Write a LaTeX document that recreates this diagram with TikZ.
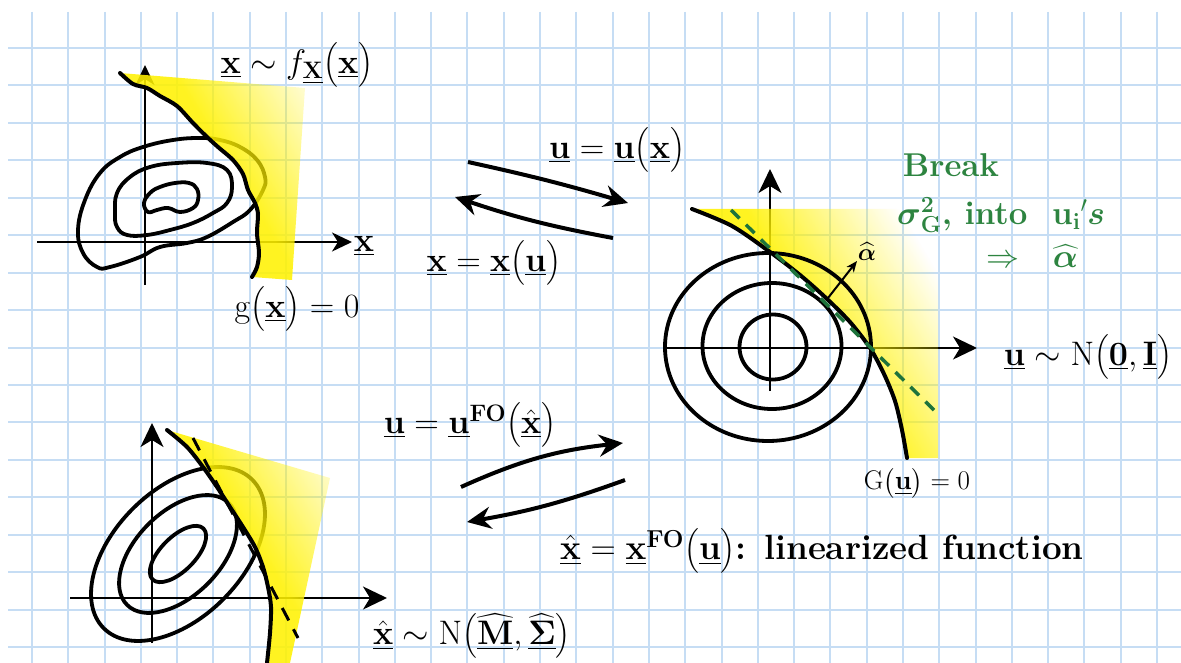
\RequirePackage{fix-cm}
\documentclass[tikz,border=0pt]{standalone}
\usepackage{amsmath}
\usetikzlibrary{arrows.meta,fadings}
\definecolor{gridblue}{RGB}{198,221,244}
\definecolor{grtext}{RGB}{45,132,64}
\definecolor{grdash}{RGB}{30,115,60}
\pgfdeclarehorizontalshading{yrampshade}{100bp}{color(0bp)=(white); color(50bp)=(white); color(61bp)=(black); color(100bp)=(black)}
\pgfdeclarefading{yfade}{\pgfuseshading{yrampshade}}
\tikzset{
  gridline/.style={draw=gridblue, line width=2pt},
  axisA/.style={line width=2pt, -{Stealth[length=20pt,width=19pt,inset=6pt]}},
  axisB/.style={line width=2pt, -{Stealth[length=24pt,width=23pt,inset=7pt]}},
  contourline/.style={line width=3.8pt, line join=round},
  limitcurve/.style={line width=4pt, line cap=round, line join=round},
  bigarrow/.style={line width=4pt, -{Stealth[length=24pt,width=22pt,inset=8pt]}},
  thinarrow/.style={line width=2pt, -{Stealth[length=11pt,width=9pt,inset=3pt]}},
  lbl/.style={inner sep=0pt, font=\fontsize{34}{40}\selectfont},
  smlbl/.style={inner sep=0pt, font=\fontsize{27}{32}\selectfont},
  glbl/.style={inner sep=0pt, text=grtext, font=\fontsize{33}{38}\selectfont\bfseries},
  yellowfill/.style={fill=yellow, fill opacity=0.87, path fading=yfade},
}
\begin{document}
\begin{tikzpicture}[x=1pt,y=-1pt]
\useasboundingbox (0,0) rectangle (1181,663);
\fill[white] (0,0) rectangle (1181,663);
% grid
\foreach \i in {0,...,31} {\draw[gridline] ({32+36.29*\i},12) -- ({32+36.29*\i},663);}
\foreach \j in {0,...,16} {\draw[gridline] (8,{48+37.44*\j}) -- (1181,{48+37.44*\j});}

% ---------------- Panel 1 ----------------
\coordinate (x1a) at (37,242);  \coordinate (x1b) at (352,242);
\coordinate (y1a) at (145,285); \coordinate (y1b) at (145,65);
\draw[axisA] (x1a) -- (x1b);
\draw[axisA] (y1a) -- (y1b);
\draw[contourline] plot[smooth cycle, tension=0.7] coordinates {(78,230) (83,253) (97,267) (110,267) (140,257) (160,247) (187,243) (207,237) (233,222) (250,210) (263,190) (265,177) (257,160) (240,147) (220,140) (200,138) (173,140) (143,147) (120,157) (100,173) (85,200)};
\draw[contourline] plot[smooth cycle, tension=0.7] coordinates {(115,213) (117,193) (130,177) (150,167) (177,163) (207,163) (227,170) (232,187) (227,203) (213,213) (193,223) (170,230) (147,235) (127,235) (117,227)};
\draw[contourline] plot[smooth cycle, tension=0.7] coordinates {(144,203) (150,193) (160,187) (175,183) (189,183) (197,189) (198,200) (193,208) (180,212) (168,208) (157,210) (148,212)};
\begin{scope}
  \clip plot[smooth] coordinates {(120,73) (133,84) (147,88) (160,96) (177,106) (193,123) (207,137) (218,147) (233,160) (243,174) (248,190) (255,203) (258,214) (257,233) (259,253) (257,267) (252,277)} -- (292,280) -- (305,88) -- cycle;
  \begin{scope}[transform canvas={rotate around={31:(235,175)}}]
    \fill[yellowfill] (-65,-225) rectangle (535,575);
  \end{scope}
\end{scope}
\draw[limitcurve] plot[smooth] coordinates {(120,73) (133,84) (147,88) (160,96) (177,106) (193,123) (207,137) (218,147) (233,160) (243,174) (248,190) (255,203) (258,214) (257,233) (259,253) (257,267) (252,277)};
\node[lbl] (fx) at (297,65) {$\underline{\mathbf{x}}\sim f_{\underline{\mathbf{X}}}\bigl(\underline{\mathbf{x}}\bigr)$};
\node[lbl] (xax) at (364,246) {$\underline{\mathbf{x}}$};
\node[lbl] (gx) at (297,309) {$\mathrm{g}\bigl(\underline{\mathbf{x}}\bigr)=0$};

% ---------------- Panel 2 arrows ----------------
\coordinate (a1s) at (468,162); \coordinate (a1e) at (628,203);
\coordinate (a2s) at (613,238); \coordinate (a2e) at (455,197);
\draw[bigarrow] (a1s) to[bend left=2] (a1e);
\draw[bigarrow] (a2s) to[bend left=4] (a2e);
\node[lbl] (ux) at (617,150) {$\underline{\mathbf{u}}=\underline{\mathbf{u}}\bigl(\underline{\mathbf{x}}\bigr)$};
\node[lbl] (xu) at (494,263) {$\underline{\mathbf{x}}=\underline{\mathbf{x}}\bigl(\underline{\mathbf{u}}\bigr)$};

% ---------------- Panel 3 ----------------
\coordinate (x3a) at (663,348); \coordinate (x3b) at (977,348);
\coordinate (y3a) at (770,391); \coordinate (y3b) at (770,169);
\draw[axisB] (x3a) -- (x3b);
\draw[axisB] (y3a) -- (y3b);
\begin{scope}
  \clip plot[smooth] coordinates {(692,209) (732,226) (770,252) (800,275) (826,298) (850,322) (870,348) (884,374) (895,401) (902,430) (907,458)} -- (938,458) -- (938,209) -- cycle;
  \begin{scope}[transform canvas={rotate around={31:(818,330)}}]
    \fill[yellowfill] (518,-70) rectangle (1118,730);
  \end{scope}
\end{scope}
\draw[contourline] (773,347) ellipse [x radius=33.5, y radius=32.5];
\draw[contourline] (772,346) ellipse [x radius=69.5, y radius=63];
\draw[contourline] (768,347) ellipse [x radius=103, y radius=94];
\draw[limitcurve] plot[smooth] coordinates {(692,209) (732,226) (770,252) (800,275) (826,298) (850,322) (870,348) (884,374) (895,401) (902,430) (907,458)};
\coordinate (d3a) at (731,210); \coordinate (d3b) at (938,414);
\draw[grdash, line width=3.5pt, dash pattern=on 12pt off 9pt] (d3a) -- (d3b);
\coordinate (al0) at (828,298); \coordinate (al1) at (857,261);
\draw[thinarrow] (al0) -- (al1);
\node[inner sep=0pt, font=\fontsize{24}{28}\selectfont] (alab) at (867,252) {$\widehat{\boldsymbol{\alpha}}$};
\node[glbl] (brk) at (951,165) {Break};
\node[glbl] (sig) at (1001,215) {$\boldsymbol{\sigma}^{\mathbf{2}}_{\mathbf{G}}$, into\ \ ${\mathbf{u}_{\mathbf{i}}}'\boldsymbol{s}$};
\node[glbl] (imp) at (1032,256) {$\Rightarrow\ \ \widehat{\boldsymbol{\alpha}}$};
\node[lbl] (un) at (1088,357) {$\underline{\mathbf{u}}\sim\mathrm{N}\bigl(\underline{\mathbf{0}},\underline{\mathbf{I}}\bigr)$};
\node[smlbl] (gu) at (917,483) {$\mathrm{G}\bigl(\underline{\mathbf{u}}\bigr)=0$};

% ---------------- Panel 4 ----------------
\coordinate (x4a) at (70,598);  \coordinate (x4b) at (387,598);
\coordinate (y4a) at (152,643); \coordinate (y4b) at (152,423);
\draw[axisB] (x4a) -- (x4b);
\draw[axisB] (y4a) -- (y4b);
\coordinate (c4) at (178,554);
\draw[contourline, rotate around={45:(c4)}] (c4) ellipse [x radius=105, y radius=64];
\draw[contourline, rotate around={45:(c4)}] (c4) ellipse [x radius=72, y radius=42];
\draw[contourline, rotate around={45:(c4)}] (c4) ellipse [x radius=36, y radius=17];
\begin{scope}
  \clip plot[smooth] coordinates {(167,430) (187,447) (203,467) (217,487) (230,507) (243,527) (255,547) (263,567) (268,587) (271,607) (270,633) (267,663)} -- (290,663) -- (330,478) -- cycle;
  \begin{scope}[transform canvas={rotate around={31:(260,550)}}]
    \fill[yellowfill] (-40,150) rectangle (560,950);
  \end{scope}
\end{scope}
\draw[limitcurve] plot[smooth] coordinates {(167,430) (187,447) (203,467) (217,487) (230,507) (243,527) (255,547) (263,567) (268,587) (271,607) (270,633) (267,663)};
\coordinate (d4a) at (193,438); \coordinate (d4b) at (298,638);
\draw[line width=3pt, dash pattern=on 14pt off 10pt] (d4a) -- (d4b);
\node[lbl] (xn) at (472,636) {$\underline{\hat{\mathbf{x}}}\sim\mathrm{N}\bigl(\underline{\widehat{\mathbf{M}}},\underline{\widehat{\mathbf{\Sigma}}}\bigr)$};

% ---------------- Panel 5 arrows ----------------
\coordinate (a3s) at (461,487); \coordinate (a3e) at (623,443);
\coordinate (a4s) at (625,480); \coordinate (a4e) at (467,522);
\draw[bigarrow] (a3s) to[bend left=9] (a3e);
\draw[bigarrow] (a4s) to[bend left=5] (a4e);
\node[lbl] (ufo) at (470,425) {$\underline{\mathbf{u}}=\underline{\mathbf{u}}^{\mathbf{FO}}\bigl(\underline{\hat{\mathbf{x}}}\bigr)$};
\node[lbl, font=\fontsize{35}{40}\selectfont] (xfo) at (822,551) {$\underline{\hat{\mathbf{x}}}=\underline{\mathbf{x}}^{\mathbf{FO}}\bigl(\underline{\mathbf{u}}\bigr)$\textbf{: linearized function}};
\end{tikzpicture}
\end{document}
